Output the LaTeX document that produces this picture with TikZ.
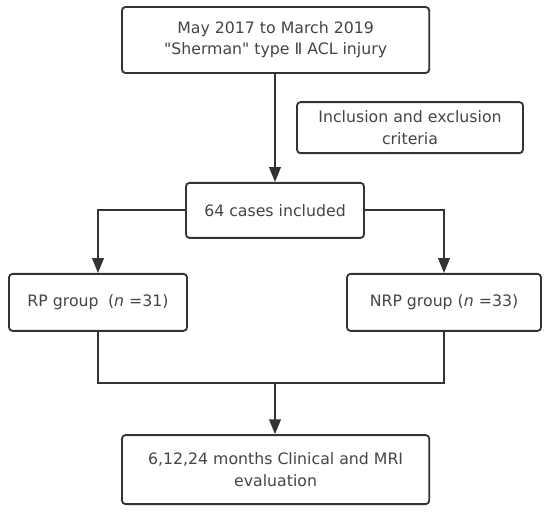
\documentclass[tikz,border=0pt]{standalone}
\usepackage{fontspec}
\usepackage{xcolor}
\usepackage{tikz}
\usetikzlibrary{arrows.meta, positioning, calc}
\setmainfont{DejaVu Sans}[Ligatures=TeXOff]
\definecolor{boxline}{HTML}{333333}
\definecolor{boxtext}{HTML}{454545}

\begin{document}
\begin{tikzpicture}[
    block/.style={draw=boxline, line width=1.3pt, rounded corners=2.5pt, fill=white,
                  align=center, font=\fontsize{11.2}{15}\selectfont, text=boxtext},
    flow/.style={draw=boxline, line width=1.3pt, -{Triangle[length=3.7mm, width=2.9mm]}},
    link/.style={draw=boxline, line width=1.3pt},
]
    \useasboundingbox (0,0) rectangle (13.75,-12.85);

    % Start
    \node[block, minimum width=7.68cm, minimum height=1.65cm] (start) at (6.89,-1.0) {
        May 2017 to March 2019 \\
        "Sherman" type Ⅱ ACL injury
    };

    % Criteria
    \node[block, minimum width=5.65cm, minimum height=1.275cm] (criteria) at (10.25,-3.19) {
        Inclusion and exclusion \\
        criteria
    };

    % Included cases
    \node[block, minimum width=4.45cm, minimum height=1.375cm] (cases) at (6.875,-5.26) {64 cases included};

    % Groups
    \node[block, minimum width=4.45cm, minimum height=1.425cm] (rp) at (2.45,-7.56) {RP group\hspace{0.6em}(\textit{n} =31)};
    \node[block, minimum width=4.85cm, minimum height=1.425cm] (nrp) at (11.1,-7.56) {NRP group (\textit{n} =33)};

    % Follow-up
    \node[block, minimum width=7.68cm, minimum height=1.725cm] (evaluation) at (6.89,-11.74) {
        6,12,24 months Clinical and MRI \\
        evaluation
    };

    % Arrows
    \coordinate (merge) at (6.875,-9.575);
    \draw[flow] (start.south -| cases) -- (cases.north);
    \draw[flow] (cases.west) -| (rp.north);
    \draw[flow] (cases.east) -| (nrp.north);
    \draw[link] (rp.south) |- (merge) -| (nrp.south);
    \draw[flow] (merge) -- (evaluation.north -| merge);
\end{tikzpicture}
\end{document}
